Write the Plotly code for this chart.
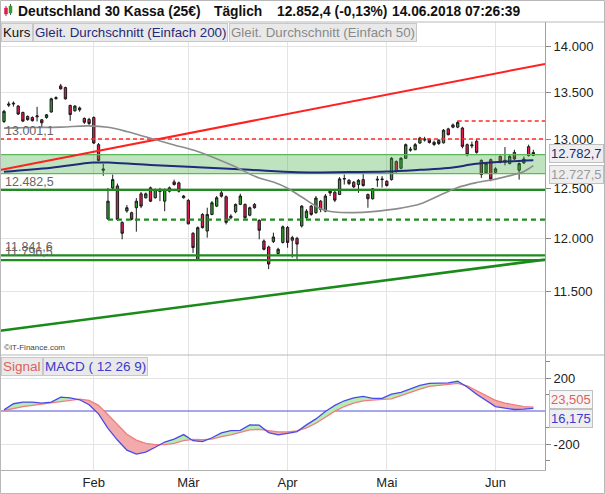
import math
import pandas as pd
import plotly.graph_objects as go

# ---------------- data ----------------
holidays = ["2018-03-30"]
dates = [d for d in pd.bdate_range("2018-01-05", "2018-06-13") if d.strftime("%Y-%m-%d") not in holidays]
month_names = {2: "Feb", 3: "Mär", 4: "Apr", 5: "Mai", 6: "Jun"}

open_ = [13186, 13360, 13372, 13350, 13282, 13240, 13228, 13235, 13204, 13228,
         13287, 13430, 13568, 13550, 13357, 13300, 13330, 13218, 13208, 13228,
         12943, 12680, 12195, 12500, 12521, 12160, 12272, 12255, 12304, 12442,
         12403, 12502, 12403, 12465, 12369, 12502, 12562, 12552, 12403, 12376,
         12054, 11800, 12238, 12076, 12238, 12320, 12452, 12413, 12205, 12264,
         12337, 12337, 12230, 12337, 12180, 11980, 11922, 11975, 11860, 11966,
         12110, 11987, 12005, 12125, 12205, 12320, 12255, 12369, 12270, 12470,
         12458, 12435, 12590, 12578, 12558, 12535, 12585, 12435, 12393, 12580,
         12585, 12568, 12585, 12768, 12700, 12802, 12885, 12891, 12960, 12990,
         12995, 12945, 12988, 12962, 13108, 13150, 13126, 13117, 12943, 12930,
         12978, 12781, 12653, 12788, 12659, 12822, 12761, 12748, 12863, 12680,
         12754, 12922, 12833]
high = [13310, 13398, 13400, 13360, 13290, 13250, 13240, 13342, 13212, 13265,
        13440, 13455, 13590, 13560, 13365, 13360, 13345, 13230, 13225, 13240,
        12960, 12745, 12500, 12636, 12545, 12170, 12330, 12265, 12400, 12460,
        12455, 12515, 12495, 12502, 12495, 12515, 12585, 12565, 12430, 12390,
        12065, 12120, 12250, 12304, 12370, 12420, 12470, 12425, 12240, 12345,
        12443, 12345, 12315, 12350, 12190, 11995, 11935, 12060, 11915, 12130,
        12125, 12030, 12020, 12330, 12290, 12330, 12420, 12380, 12440, 12480,
        12470, 12610, 12636, 12590, 12570, 12590, 12652, 12445, 12500, 12620,
        12620, 12580, 12815, 12780, 12815, 12955, 12920, 12960, 13025, 13025,
        13010, 12985, 13000, 13105, 13120, 13165, 13195, 13130, 12955, 12975,
        13000, 12790, 12760, 12800, 12710, 12830, 12918, 12835, 12890, 12760,
        12820, 12943, 12890]
low = [13170, 13340, 13345, 13255, 13180, 13195, 13185, 13186, 13125, 13215,
       13280, 13420, 13530, 13420, 13193, 13290, 13290, 13160, 13150, 12950,
       12770, 12623, 12185, 12490, 12173, 11996, 12255, 12180, 12070, 12300,
       12395, 12360, 12395, 12369, 12270, 12455, 12525, 12455, 12395, 12140,
       11866, 11797, 12100, 12012, 12230, 12310, 12405, 12140, 12190, 12250,
       12330, 12195, 12220, 12295, 11996, 11890, 11712, 11960, 11850, 11955,
       11915, 11822, 11806, 12110, 12195, 12225, 12245, 12260, 12260, 12420,
       12360, 12430, 12535, 12530, 12500, 12452, 12515, 12304, 12385, 12512,
       12505, 12515, 12575, 12655, 12690, 12795, 12870, 12885, 12950, 12975,
       12955, 12930, 12940, 12955, 13040, 13115, 13115, 12905, 12822, 12905,
       12850, 12602, 12640, 12568, 12645, 12750, 12730, 12740, 12785, 12585,
       12745, 12820, 12825]
close = [13293, 13372, 13380, 13265, 13190, 13205, 13195, 13245, 13172, 13257,
         13428, 13440, 13536, 13428, 13260, 13350, 13310, 13178, 13165, 12960,
         12780, 12692, 12369, 12585, 12190, 12054, 12304, 12190, 12369, 12320,
         12442, 12369, 12485, 12470, 12485, 12468, 12535, 12468, 12420, 12146,
         11917, 12109, 12109, 12238, 12353, 12403, 12418, 12160, 12221, 12337,
         12420, 12205, 12304, 12304, 12083, 11900, 11760, 12018, 11900, 12117,
         11966, 12012, 11950, 12320, 12270, 12238, 12400, 12287, 12420, 12450,
         12379, 12592, 12595, 12545, 12512, 12578, 12525, 12393, 12492, 12588,
         12590, 12525, 12802, 12667, 12802, 12943, 12895, 12943, 13012, 13000,
         12965, 12967, 12955, 13094, 13047, 13126, 13176, 12925, 12839, 12940,
         12863, 12636, 12748, 12590, 12694, 12761, 12781, 12822, 12795, 12748,
         12795, 12830, 12862]

ma50_idx = [0, 6, 12, 18, 22, 26, 31, 36, 41, 48, 54, 57, 60, 63, 67, 70, 74, 78,
            84, 88, 92, 96, 100, 104, 108, 110, 112]
ma50 = [13116, 13122, 13127, 13140, 13125, 13080, 13010, 12940, 12872, 12735, 12600,
        12560, 12498, 12410, 12295, 12262, 12256, 12266, 12300, 12340, 12423, 12505,
        12555, 12590, 12637, 12668, 12727.5]
ma200_idx = [0, 10, 19, 23, 31, 41, 52, 62, 73, 81, 88, 94, 100, 106, 112]
ma200 = [12665, 12706, 12758, 12756, 12734, 12711, 12684, 12659, 12662, 12667, 12684,
         12702, 12745, 12768, 12782.7]

macd_idx = list(range(0, 113, 2))
macd = [7, 44, 54, 54, 48, 54, 84, 80, 68, 38, -17, -105, -176, -237, -261, -249, -220,
        -188, -170, -143, -180, -186, -162, -133, -119, -117, -84, -86, -131, -145, -135,
        -125, -84, -48, -3, 34, 62, 80, 88, 76, 76, 102, 113, 135, 155, 168, 170, 170,
        180, 145, 102, 62, 27, 17, 9, 11, 16.175]
signal = [3, 17, 27, 34, 42, 48, 58, 68, 72, 64, 34, -23, -84, -141, -176, -196, -204,
          -204, -196, -180, -172, -174, -170, -155, -145, -131, -115, -111, -119, -127,
          -127, -121, -102, -74, -38, -1, 27, 48, 62, 68, 70, 74, 92, 113, 133, 149, 155,
          163, 167, 153, 125, 92, 64, 48, 36, 27, 23.505]

red_dashed_level = 13001.1
red_dashed_top = 13190
red_dashed_top_start = 96
green_levels = [12482.5, 11841.6, 11796.5]
green_dashed_level = 12187
green_dashed_start = 22
band_low, band_high = 12645, 12840
red_trend_idx, red_trend_val = [0, 112], [12691, 13785]
green_trend_idx, green_trend_val = [0, 112], [11152, 11788]

left_labels = [("13.001,1", 13001.1), ("12.482,5", 12482.5), ("11.841,6", 11841.6), ("11.796,5", 11796.5)]
price_ticks = [11500, 12000, 12500, 13000, 13500, 14000]
price_tick_text = ["11.500", "12.000", "12.500", "13.000", "13.500", "14.000"]
macd_ticks = [-200, 200]
macd_tick_text = ["-200", "200"]

# ---------------- layout geometry ----------------
W, H = 605, 494
PL, PR, PT, PB = 0, 545, 22, 470
SPLIT = 355
X_RANGE = [-0.846, 114.47]
Y_RANGE = [4.0387, 4.1548]
Y2_RANGE = [-357.6, 339.4]
FONT = "Liberation Sans, Arial, sans-serif"


def xp(px):
    return (px - PL) / (PR - PL)


def yp(py):
    return (PB - py) / (PB - PT)


def extend_log(idx, vals):
    a = math.log10(vals[0]); b = math.log10(vals[1])
    s = (b - a) / (idx[1] - idx[0])
    return [X_RANGE[0], X_RANGE[1]], [10 ** (a + s * (X_RANGE[0] - idx[0])), 10 ** (a + s * (X_RANGE[1] - idx[0]))]


xs = list(range(len(dates)))
tickvals, ticktext = [], []
for i in range(1, len(dates)):
    if dates[i].month != dates[i - 1].month:
        tickvals.append(i)
        ticktext.append(month_names[dates[i].month])

fig = go.Figure()

# band
fig.add_trace(go.Scatter(x=X_RANGE, y=[band_low] * 2, mode="lines",
                         line=dict(color="#5cb85c", width=1.2), hoverinfo="skip"))
fig.add_trace(go.Scatter(x=X_RANGE, y=[band_high] * 2, mode="lines", fill="tonexty",
                         fillcolor="rgba(60,170,60,0.33)",
                         line=dict(color="#5cb85c", width=1.2), hoverinfo="skip"))
# horizontal levels
fig.add_trace(go.Scatter(x=X_RANGE, y=[red_dashed_level] * 2, mode="lines",
                         line=dict(color="#ff2a2a", width=1.5, dash="4px,3px")))
fig.add_trace(go.Scatter(x=[red_dashed_top_start, X_RANGE[1]], y=[red_dashed_top] * 2, mode="lines",
                         line=dict(color="#ff2a2a", width=1.5, dash="4px,3px")))
for lv in green_levels:
    fig.add_trace(go.Scatter(x=X_RANGE, y=[lv] * 2, mode="lines",
                             line=dict(color="#1e8c1e", width=2.2)))
fig.add_trace(go.Scatter(x=[green_dashed_start, X_RANGE[1]], y=[green_dashed_level] * 2, mode="lines",
                         line=dict(color="#1e8c1e", width=2.2, dash="5px,4px")))
# trend lines
tx, ty = extend_log(red_trend_idx, red_trend_val)
fig.add_trace(go.Scatter(x=tx, y=ty, mode="lines", line=dict(color="#ff2020", width=2)))
tx, ty = extend_log(green_trend_idx, green_trend_val)
fig.add_trace(go.Scatter(x=tx, y=ty, mode="lines", line=dict(color="#1a8a1a", width=2.6)))
# moving averages
fig.add_trace(go.Scatter(x=ma200_idx, y=ma200, mode="lines", line=dict(color="#1f2a7a", width=2, shape="spline")))
fig.add_trace(go.Scatter(x=ma50_idx, y=ma50, mode="lines", line=dict(color="#8c8c8c", width=1.6, shape="spline")))
# candles
fig.add_trace(go.Candlestick(x=xs, open=open_, high=high, low=low, close=close,
                             increasing=dict(fillcolor="#2fa02f", line=dict(color="#1b1b1b", width=1)),
                             decreasing=dict(fillcolor="#e5194f", line=dict(color="#1b1b1b", width=1)),
                             whiskerwidth=0, hoverinfo="skip"))

# MACD fills
def fill_segments(x, a, b):
    segs = []
    cx, ca, cb = [x[0]], [a[0]], [b[0]]
    sign = a[0] >= b[0]
    for i in range(1, len(x)):
        s = a[i] >= b[i]
        if s != sign:
            d0 = a[i - 1] - b[i - 1]; d1 = a[i] - b[i]
            t = d0 / (d0 - d1)
            xc = x[i - 1] + t * (x[i] - x[i - 1]); yc = a[i - 1] + t * (a[i] - a[i - 1])
            cx.append(xc); ca.append(yc); cb.append(yc)
            segs.append((sign, cx, ca, cb))
            cx, ca, cb = [xc], [yc], [yc]
            sign = s
        cx.append(x[i]); ca.append(a[i]); cb.append(b[i])
    segs.append((sign, cx, ca, cb))
    return segs


fig.add_trace(go.Scatter(x=X_RANGE, y=[0, 0], xaxis="x2", yaxis="y2", mode="lines",
                         line=dict(color="#5050d8", width=1.2)))
for sgn, cx, ca, cb in fill_segments(macd_idx, macd, signal):
    fig.add_trace(go.Scatter(x=cx + cx[::-1], y=ca + cb[::-1], xaxis="x2", yaxis="y2",
                             mode="lines", fill="toself", line=dict(width=0),
                             fillcolor="#b4ecb4" if sgn else "#f2aaaa", hoverinfo="skip"))
fig.add_trace(go.Scatter(x=macd_idx, y=signal, xaxis="x2", yaxis="y2", mode="lines",
                         line=dict(color="#ef7f7f", width=1.3)))
fig.add_trace(go.Scatter(x=macd_idx, y=macd, xaxis="x2", yaxis="y2", mode="lines",
                         line=dict(color="#4a4ae8", width=1.3)))

grid = "#e4e4e4"
axis_font = dict(family=FONT, size=13, color="#222")
fig.update_layout(
    width=W, height=H, margin=dict(l=PL, r=W - PR, t=PT, b=H - PB),
    paper_bgcolor="white", plot_bgcolor="white", showlegend=False, hovermode=False,
    xaxis=dict(domain=[0, 1], range=X_RANGE, anchor="y", tickvals=tickvals, showticklabels=False,
               showgrid=True, gridcolor=grid, zeroline=False, rangeslider=dict(visible=False),
               ticks="", automargin=False),
    xaxis2=dict(domain=[0, 1], range=X_RANGE, anchor="y2", matches="x", tickvals=tickvals,
                ticktext=ticktext, showgrid=True, gridcolor=grid, zeroline=False, ticks="",
                tickfont=axis_font, automargin=False, showline=True, linecolor="#b0b0b0"),
    yaxis=dict(type="log", domain=[yp(SPLIT), 1], range=Y_RANGE, anchor="x", side="right",
               tickvals=price_ticks, ticktext=price_tick_text, ticks="outside", ticklen=5,
               tickcolor="#888", showline=True, linecolor="#a0a0a0", showgrid=True, gridcolor=grid,
               zeroline=False, tickfont=axis_font, automargin=False),
    yaxis2=dict(domain=[0, yp(SPLIT)], range=Y2_RANGE, anchor="x2", side="right",
                tickvals=macd_ticks, ticktext=macd_tick_text, ticks="outside", ticklen=5,
                tickcolor="#888", showline=True, linecolor="#a0a0a0", showgrid=True, gridcolor=grid,
                zeroline=False, tickfont=axis_font, automargin=False,
                minor=dict(tickvals=[-300, -100, 100, 300], ticks="outside", ticklen=4,
                           tickcolor="#888", showgrid=False)),
)

shapes = []
# outer border and separators
shapes.append(dict(type="rect", xref="paper", yref="paper", x0=xp(0.5), x1=xp(604.5), y0=yp(493.5), y1=yp(0.5),
                   line=dict(color="#b8b8b8", width=1)))
for yy in (PT, SPLIT):
    shapes.append(dict(type="line", xref="paper", yref="paper", x0=xp(0), x1=xp(605), y0=yp(yy), y1=yp(yy),
                       line=dict(color="#b8b8b8", width=1)))
# title icon
shapes.append(dict(type="line", xref="paper", yref="paper", x0=xp(6), x1=xp(6), y0=yp(16), y1=yp(6),
                   line=dict(color="#555", width=1)))
shapes.append(dict(type="rect", xref="paper", yref="paper", x0=xp(4.5), x1=xp(7.5), y0=yp(14), y1=yp(8),
                   fillcolor="#e5194f", line=dict(color="#e5194f", width=0.5)))
shapes.append(dict(type="line", xref="paper", yref="paper", x0=xp(10.5), x1=xp(10.5), y0=yp(15), y1=yp(4),
                   line=dict(color="#555", width=1)))
shapes.append(dict(type="rect", xref="paper", yref="paper", x0=xp(9), x1=xp(12), y0=yp(13), y1=yp(6),
                   fillcolor="#2fa02f", line=dict(color="#2fa02f", width=0.5)))
fig.update_layout(shapes=shapes)

ann = []
title_parts = [("Deutschland 30 Kassa (25€)", 16), ("Täglich", 212), ("12.852,4 (-0,13%)", 275), ("14.06.2018 07:26:39", 390)]
for txt, x0 in title_parts:
    ann.append(dict(text="<b>%s</b>" % txt, x=xp(x0), y=yp(11), xref="paper", yref="paper",
                    xanchor="left", yanchor="middle", showarrow=False,
                    font=dict(family=FONT, size=13.8, color="#111")))
legend_parts = [("Kurs", 1, "#111"), ("Gleit. Durchschnitt (Einfach 200)", 33, "#1f2a7a"),
                ("Gleit. Durchschnitt (Einfach 50)", 229, "#8a8a8a")]
for txt, x0, col in legend_parts:
    ann.append(dict(text=txt, x=xp(x0), y=yp(32), xref="paper", yref="paper", xanchor="left",
                    yanchor="middle", showarrow=False, bgcolor="#e9e9e9", bordercolor="#c8c8c8",
                    borderwidth=1, borderpad=1, font=dict(family=FONT, size=13.3, color=col)))
macd_leg = [("Signal", 1, "#e06060"), ("MACD ( 12 26 9)", 43, "#3a3acc")]
for txt, x0, col in macd_leg:
    ann.append(dict(text=txt, x=xp(x0), y=yp(366), xref="paper", yref="paper", xanchor="left",
                    yanchor="middle", showarrow=False, bgcolor="#e9e9e9", bordercolor="#c8c8c8",
                    borderwidth=1, borderpad=1, font=dict(family=FONT, size=13.5, color=col)))
for txt, v in left_labels:
    ann.append(dict(text=txt, x=xp(3), y=math.log10(v), xref="paper", yref="y", xanchor="left",
                    yanchor="middle", yshift=8, showarrow=False,
                    font=dict(family=FONT, size=12.5, color="#666")))
ann.append(dict(text="©IT-Finance.com", x=xp(2), y=yp(347), xref="paper", yref="paper", xanchor="left",
                yanchor="middle", showarrow=False, font=dict(family=FONT, size=8, color="#444")))
right_boxes = [("12.782,7", 154, "#1f2a7a", "#eeeeee"), ("12.727,5", 175, "#9a9a9a", "#eeeeee"),
               ("23,505", 399, "#e06060", "#f6f6f6"), ("16,175", 418, "#3a3acc", "#eeeeee")]
for txt, yy, col, bg in right_boxes:
    ann.append(dict(text=txt, x=xp(549), y=yp(yy), xref="paper", yref="paper", xanchor="left",
                    yanchor="middle", showarrow=False, bgcolor=bg, bordercolor="#c0c0c0",
                    borderwidth=1, borderpad=1, font=dict(family=FONT, size=13, color=col)))
fig.update_layout(annotations=ann)

fig.write_html("out.html", config={"displayModeBar": False, "staticPlot": True},
               post_script="document.body.style.margin='0';document.body.style.overflow='hidden';")
